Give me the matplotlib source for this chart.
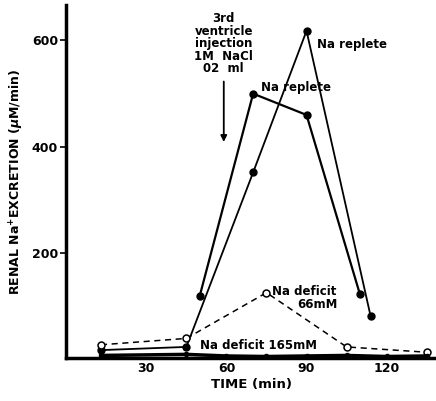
from matplotlib import pyplot as plt

# Na replete (peak ~500)
t_rep1 = [50, 70, 90, 110]
v_rep1 = [120, 500, 460, 123]

# Na replete (peak ~615)
t_rep2 = [13, 45, 70, 90, 114]
v_rep2 = [18, 24, 352, 618, 82]

# Na deficit 66 mM
t_def66 = [13, 45, 75, 105, 135]
v_def66 = [28, 40, 126, 24, 14]

# Na deficit 165 mM
t_def165 = [13, 45, 60, 75, 90, 105, 120, 135]
v_def165 = [8, 10, 7, 6, 7, 8, 6, 7]

yticks = [200, 400, 600]
xticks = [30, 60, 90, 120]

plt.rcParams['font.family'] = ['DejaVu Sans']
plt.rcParams['font.weight'] = 'bold'

fig = plt.figure(figsize=(4.36, 4.01), dpi=100)
ax = fig.add_axes([0.152, 0.107, 0.848, 0.881])

ax.plot(t_rep1, v_rep1, '-o', color='black', lw=1.6, ms=5)
ax.plot(t_rep2, v_rep2, '-o', color='black', lw=1.3, ms=5)
ax.plot(t_def66, v_def66, '--o', color='black', lw=1.1, ms=5,
        mfc='white', mew=1.1, dashes=(4, 3))
ax.plot(t_def165, v_def165, '-', color='black', lw=2.5)
ax.plot(t_def165, v_def165, 'o', color='black', ms=3)

ax.set_xlim(0, 138.5)
ax.set_ylim(3, 667)
ax.set_xticks(xticks)
ax.set_yticks(yticks)
ax.tick_params(axis='x', length=0, labelsize=9, pad=3)
ax.tick_params(axis='y', length=4, width=1.2, labelsize=9, pad=2)
for lab in ax.get_xticklabels() + ax.get_yticklabels():
    lab.set_fontweight('bold')

for s in ['top', 'right']:
    ax.spines[s].set_visible(False)
for s in ['left', 'bottom']:
    ax.spines[s].set_linewidth(2.5)

ax.set_xlabel('TIME (min)', fontsize=9.5, fontweight='bold', labelpad=2)
ax.set_ylabel(r'RENAL Na$^{+}$EXCRETION ($\mu$M/min)', fontsize=9,
              fontweight='bold', labelpad=4)

ax.text(59, 594, '3rd\nventricle\ninjection\n1M  NaCl\n02  ml', ha='center',
        va='center', fontsize=8.5, fontweight='bold', linespacing=0.95)
ax.annotate('', xy=(59, 404), xytext=(59, 528),
            arrowprops=dict(arrowstyle='-|>', color='black', lw=1.3,
                            mutation_scale=9))

ax.text(73, 511, 'Na replete', fontsize=8.5, fontweight='bold', va='center')
ax.text(94, 592, 'Na replete', fontsize=8.5, fontweight='bold', va='center')
ax.text(77, 128, 'Na deficit', fontsize=8.5, fontweight='bold', va='center')
ax.text(94, 104, '66mM', fontsize=8.5, fontweight='bold', va='center', ha='center')
ax.text(50, 27, 'Na deficit 165mM', fontsize=8.5, fontweight='bold', va='center')

fig.savefig('out.png', dpi=100)
